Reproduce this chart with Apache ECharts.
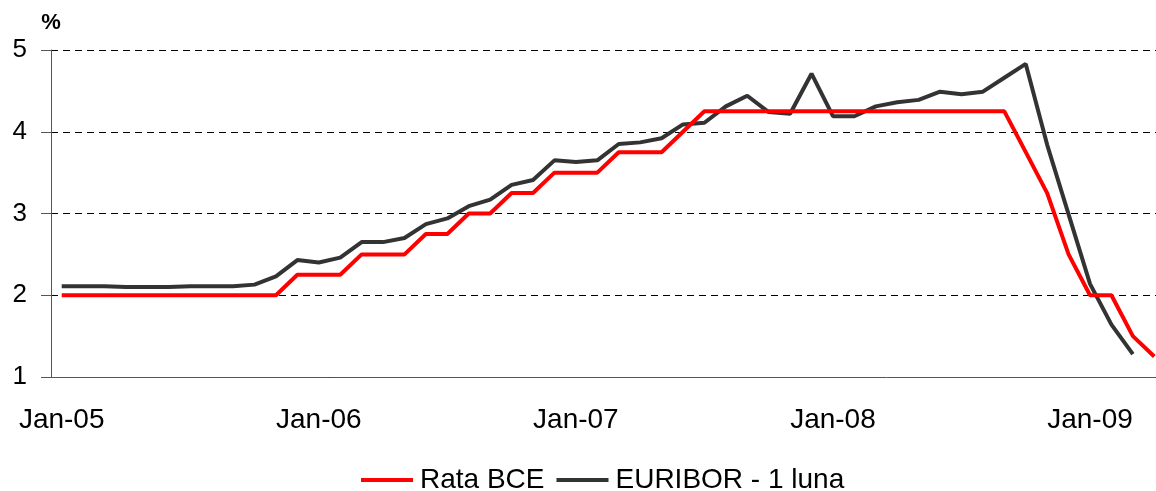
<!DOCTYPE html>
<html>
<head>
<meta charset="utf-8">
<script src="https://cdn.jsdelivr.net/npm/echarts@6/dist/echarts.min.js"></script>
<style>
html, body { margin: 0; padding: 0; background: #fff; overflow: hidden; }
#container { width: 1165px; height: 491px; }
</style>
</head>
<body>
<div id="container"></div>
<script>
var dom = document.getElementById("container");
var myChart = echarts.init(dom);

var months = [
    'Jan-05','Feb-05','Mar-05','Apr-05','May-05','Jun-05','Jul-05','Aug-05','Sep-05','Oct-05','Nov-05','Dec-05',
    'Jan-06','Feb-06','Mar-06','Apr-06','May-06','Jun-06','Jul-06','Aug-06','Sep-06','Oct-06','Nov-06','Dec-06',
    'Jan-07','Feb-07','Mar-07','Apr-07','May-07','Jun-07','Jul-07','Aug-07','Sep-07','Oct-07','Nov-07','Dec-07',
    'Jan-08','Feb-08','Mar-08','Apr-08','May-08','Jun-08','Jul-08','Aug-08','Sep-08','Oct-08','Nov-08','Dec-08',
    'Jan-09','Feb-09','Mar-09','Apr-09'
];

// Rata BCE
var rataBCE = [
    2.00, 2.00, 2.00, 2.00, 2.00, 2.00, 2.00, 2.00, 2.00, 2.00, 2.00, 2.25,
    2.25, 2.25, 2.50, 2.50, 2.50, 2.75, 2.75, 3.00, 3.00, 3.25, 3.25, 3.50,
    3.50, 3.50, 3.75, 3.75, 3.75, 4.00, 4.25, 4.25, 4.25, 4.25, 4.25, 4.25,
    4.25, 4.25, 4.25, 4.25, 4.25, 4.25, 4.25, 4.25, 4.25, 3.75, 3.25, 2.50,
    2.00, 2.00, 1.50, 1.25
];

// EURIBOR - 1 luna
var euribor1m = [
    2.11, 2.11, 2.11, 2.10, 2.10, 2.10, 2.11, 2.11, 2.11, 2.13, 2.23, 2.43,
    2.40, 2.46, 2.65, 2.65, 2.70, 2.87, 2.94, 3.09, 3.17, 3.35, 3.41, 3.65,
    3.63, 3.65, 3.85, 3.87, 3.92, 4.09, 4.11, 4.31, 4.44, 4.24, 4.22, 4.71,
    4.19, 4.19, 4.31, 4.36, 4.39, 4.49, 4.46, 4.49, 4.66, 4.83, 3.84, 2.99,
    2.14, 1.64, 1.28
];

var yTicks = [1, 2, 3, 4, 5];

var labelFont = 'Arial, "Liberation Sans", sans-serif';

option = {
    animation: false,
    grid: {
        left: 51,
        right: 0,
        top: 50,
        bottom: 114
    },
    legend: {
        left: 356,
        top: 461,
        icon: 'rect',
        itemWidth: 52,
        itemHeight: 4,
        itemGap: 12,
        data: ['Rata BCE', 'EURIBOR - 1 luna'],
        textStyle: {
            fontFamily: labelFont,
            fontSize: 28,
            color: '#000',
            padding: [0, 0, 0, 2]
        }
    },
    xAxis: {
        type: 'category',
        boundaryGap: true,
        data: months,
        axisLine: {
            lineStyle: { color: '#555', width: 1 }
        },
        axisTick: {
            interval: 11,
            length: 9,
            lineStyle: { color: '#555' }
        },
        axisLabel: {
            interval: 11,
            margin: 29,
            fontFamily: labelFont,
            fontSize: 28,
            color: '#000'
        },
        splitLine: { show: false }
    },
    yAxis: {
        type: 'value',
        min: yTicks[0],
        max: yTicks[yTicks.length - 1],
        interval: 1,
        name: '%',
        nameLocation: 'end',
        nameGap: 16,
        nameTextStyle: {
            fontFamily: labelFont,
            fontSize: 22,
            fontWeight: 'bold',
            color: '#000',
            align: 'center'
        },
        axisLine: {
            show: true,
            lineStyle: { color: '#555', width: 1 }
        },
        axisTick: {
            show: true,
            length: 10,
            lineStyle: { color: '#555' }
        },
        axisLabel: {
            margin: 24,
            fontFamily: labelFont,
            fontSize: 26,
            color: '#000'
        },
        splitLine: {
            show: true,
            lineStyle: {
                color: '#000',
                width: 1,
                type: [7, 5]
            }
        }
    },
    series: [
        {
            name: 'Rata BCE',
            type: 'line',
            data: rataBCE,
            symbol: 'none',
            z: 3,
            itemStyle: { color: '#ff0000' },
            lineStyle: { color: '#ff0000', width: 4 }
        },
        {
            name: 'EURIBOR - 1 luna',
            type: 'line',
            data: euribor1m,
            symbol: 'none',
            z: 2,
            itemStyle: { color: '#333333' },
            lineStyle: { color: '#333333', width: 4 }
        }
    ]
};

if (option && typeof option === "object") {
    myChart.setOption(option, true);
}
</script>
</body>
</html>
